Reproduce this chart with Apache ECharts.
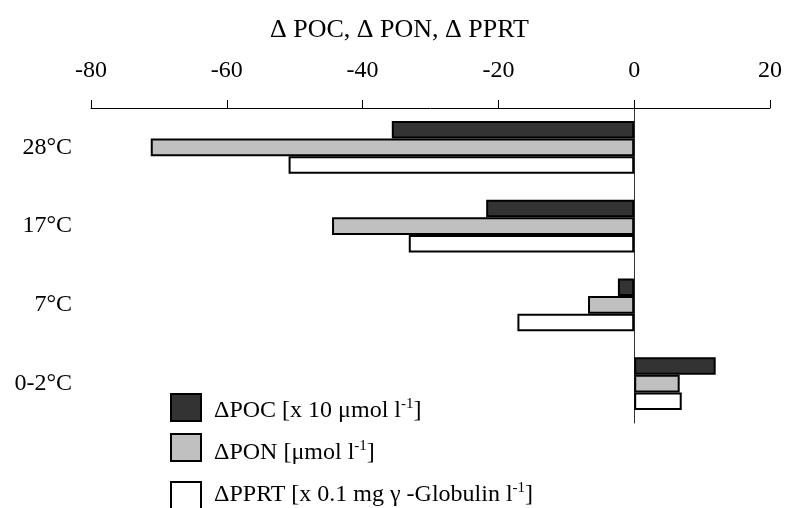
<!DOCTYPE html>
<html>
<head>
<meta charset="utf-8">
<script src="https://cdn.jsdelivr.net/npm/echarts@6/dist/echarts.min.js"></script>
<style>
  html, body { margin: 0; padding: 0; background: #fff; }
  #chart { width: 786px; height: 508px; }
</style>
</head>
<body>
<div id="chart"></div>
<script>
// Temperature groups, top to bottom
const categories = ['28°C', '17°C', '7°C', '0-2°C'];
// Changes per group
const pocValues = [-35.7, -21.8, -2.4, 12.0];
const ponValues = [-71.2, -44.5, -6.8, 6.7];
const pprtValues = [-50.9, -33.2, -17.2, 7.0];
// Value axis
const axisMin = -80;
const axisMax = 20;
const axisStep = 20;
// Series names and their legend texts (main part, superscript, closing)
const seriesNames = ['ΔPOC', 'ΔPON', 'ΔPPRT'];
const legendMain = ['ΔPOC [x 10 μmol l', 'ΔPON [μmol l', 'ΔPPRT [x 0.1 mg γ -Globulin l'];
const legendSup = ['-1', '-1', '-1'];
const legendEnd = [']', ']', ']'];

const FONT = 'Liberation Serif';
const fills = ['#333333', '#c0c0c0', '#ffffff'];
const valueSets = [pocValues, ponValues, pprtValues];
const legendTops = [388, 428, 476];
// Per-entry text padding: [top, right, bottom, left]
const legendPads = [[7, 0, 0, 8], [11, 0, 0, 8], [0, 0, 1, 8]];

const chart = echarts.init(document.getElementById('chart'), null, { renderer: 'canvas' });

const legends = seriesNames.map((name, i) => ({
  data: [name],
  left: 165,
  top: legendTops[i],
  orient: 'vertical',
  itemWidth: 30,
  itemHeight: 27,
  icon: 'rect',
  selectedMode: false,
  formatter: () => '{a|' + legendMain[i] + '}{s|' + legendSup[i] + '}{a|' + legendEnd[i] + '}',
  textStyle: {
    padding: legendPads[i],
    rich: {
      a: { fontFamily: FONT, fontSize: 24, color: '#000' },
      s: { fontFamily: FONT, fontSize: 15, color: '#000', padding: [0, 0, 13, 0] }
    }
  }
}));

const series = seriesNames.map((name, i) => ({
  name: name,
  type: 'bar',
  yAxisIndex: 0,
  data: valueSets[i],
  barGap: '0%',
  barCategoryGap: '33%',
  itemStyle: { color: fills[i], borderColor: '#000', borderWidth: 2 },
  emphasis: { disabled: true },
  animation: false
}));

chart.setOption({
  animation: false,
  backgroundColor: '#fff',
  title: {
    text: 'Δ POC, Δ PON, Δ PPRT',
    left: 265,
    top: 12,
    textStyle: { fontFamily: FONT, fontSize: 26, fontWeight: 'normal', color: '#000' }
  },
  legend: legends,
  grid: { left: 91, right: 16, top: 108, bottom: 85 },
  xAxis: {
    type: 'value',
    position: 'top',
    min: axisMin,
    max: axisMax,
    interval: axisStep,
    splitLine: { show: false },
    axisLine: { show: true, onZero: false, lineStyle: { color: '#000', width: 1 } },
    axisTick: { show: true, length: 8, lineStyle: { color: '#000', width: 1 } },
    axisLabel: { margin: 25, fontFamily: FONT, fontSize: 24, color: '#000' }
  },
  yAxis: [
    {
      type: 'category',
      data: categories,
      inverse: true,
      axisLine: { show: true, onZero: true, lineStyle: { color: '#333', width: 1 } },
      axisTick: { show: false },
      axisLabel: { show: false }
    },
    {
      type: 'category',
      data: categories,
      inverse: true,
      position: 'left',
      axisLine: { show: false, onZero: false },
      axisTick: { show: false },
      axisLabel: { margin: 19, fontFamily: FONT, fontSize: 24, color: '#000' }
    }
  ],
  series: series
});
</script>
</body>
</html>
